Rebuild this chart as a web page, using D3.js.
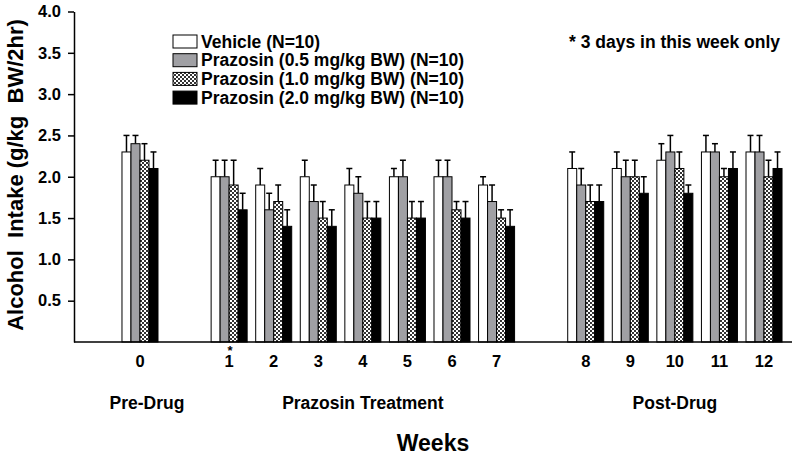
<!DOCTYPE html>
<html><head><meta charset="utf-8">
<script src="https://cdn.jsdelivr.net/npm/d3@7"></script>
<style>
body{margin:0;background:#fff;}
text{font-family:"Liberation Sans",Arial,sans-serif;font-weight:bold;fill:#000;white-space:pre;}
</style></head>
<body><svg id="chart" width="800" height="460"></svg>
<script>
// ---- data ----
const weeks = ["0","1","2","3","4","5","6","7","8","9","10","11","12"];
const slots = ["0","gapA","1","2","3","4","5","6","7","gapB","8","9","10","11","12"];
const seriesNames = ["Vehicle (N=10)","Prazosin (0.5 mg/kg BW) (N=10)","Prazosin (1.0 mg/kg BW) (N=10)","Prazosin (2.0 mg/kg BW) (N=10)"];
const vehicle   = [2.3,2.0,1.9,2.0,1.9,2.0,2.0,1.9,2.1,2.1,2.2,2.3,2.3];
const vehicleUp = [2.5,2.2,2.1,2.2,2.1,2.1,2.2,2.0,2.3,2.3,2.4,2.5,2.5];
const p05   = [2.4,2.0,1.6,1.7,1.8,2.0,2.0,1.7,1.9,2.0,2.3,2.3,2.3];
const p05Up = [2.5,2.2,1.8,1.9,2.0,2.2,2.2,1.9,2.1,2.2,2.5,2.4,2.5];
const p10   = [2.2,1.9,1.7,1.5,1.5,1.5,1.6,1.5,1.7,2.0,2.1,2.0,2.0];
const p10Up = [2.4,2.2,1.9,1.7,1.7,1.7,1.7,1.6,1.9,2.2,2.3,2.1,2.2];
const p20   = [2.1,1.6,1.4,1.4,1.5,1.5,1.5,1.4,1.7,1.8,1.8,2.1,2.1];
const p20Up = [2.3,1.8,1.6,1.6,1.7,1.7,1.7,1.6,1.9,2.0,1.9,2.3,2.3];
const yTicks = [0.5,1.0,1.5,2.0,2.5,3.0,3.5,4.0];
const phases = [{label:"Pre-Drug", from:"0", to:"0"},{label:"Prazosin Treatment", from:"1", to:"7"},{label:"Post-Drug", from:"8", to:"12"}];
const noteText = "* 3 days in this week only";
const starWeek = "1";
const yTitle = "Alcohol  Intake (g/kg  BW/2hr)";
const xTitle = "Weeks";

const series = [
  {name:seriesNames[0], vals:vehicle, ups:vehicleUp, fill:"#ffffff"},
  {name:seriesNames[1], vals:p05, ups:p05Up, fill:"#a0a0a4"},
  {name:seriesNames[2], vals:p10, ups:p10Up, fill:"url(#checker)"},
  {name:seriesNames[3], vals:p20, ups:p20Up, fill:"#000000"}
];

const svg = d3.select("#chart");
const defs = svg.append("defs");
const pat = defs.append("pattern").attr("id","checker").attr("patternUnits","userSpaceOnUse").attr("width",4).attr("height",4);
pat.append("rect").attr("width",4).attr("height",4).attr("fill","#ffffff");
pat.append("rect").attr("width",2).attr("height",2).attr("fill","#333");
pat.append("rect").attr("x",2).attr("y",2).attr("width",2).attr("height",2).attr("fill","#333");

const y = d3.scaleLinear().domain([0,4]).range([342,11.5]);
const x0 = d3.scaleBand().domain(slots).range([117.7,786.3]).paddingInner(0.192).paddingOuter(0.096);
const x1 = d3.scaleBand().domain(d3.range(series.length)).range([0,x0.bandwidth()]);

// bars
series.forEach((s,si)=>{
  const g = svg.append("g");
  weeks.forEach((w,i)=>{
    const bx = x0(w)+x1(si);
    const bw = x1.bandwidth();
    const cx = bx+bw/2;
    g.append("line").attr("x1",cx).attr("x2",cx).attr("y1",y(s.vals[i])).attr("y2",y(s.ups[i])).attr("stroke","#000").attr("stroke-width",1.5);
    g.append("line").attr("x1",cx-3).attr("x2",cx+3).attr("y1",y(s.ups[i])).attr("y2",y(s.ups[i])).attr("stroke","#000").attr("stroke-width",1.5);
    g.append("rect").attr("x",bx).attr("y",y(s.vals[i])).attr("width",bw).attr("height",y(0)-y(s.vals[i]))
      .attr("fill",s.fill).attr("stroke","#000").attr("stroke-width",1);
  });
});

// y axis
const yAxis = d3.axisLeft(y).tickValues(yTicks).tickFormat(d3.format(".1f")).tickSize(6).tickSizeOuter(0).tickPadding(7);
const ya = svg.append("g").attr("transform","translate(74,0)").call(yAxis);
ya.select(".domain").attr("stroke","#000").attr("stroke-width",1.5);
ya.selectAll(".tick line").attr("stroke","#000").attr("stroke-width",1.5);
ya.selectAll(".tick text").style("font-size","16.5px").style("font-family","Liberation Sans").style("font-weight","bold").attr("fill","#000");

// x axis line
svg.append("line").attr("x1",74).attr("x2",792).attr("y1",y(0)).attr("y2",y(0)).attr("stroke","#000").attr("stroke-width",1.5);
const xAxis = d3.axisBottom(x0).tickValues(weeks).tickSize(0).tickPadding(13);
const xa = svg.append("g").attr("transform",`translate(0,${y(0)})`).call(xAxis);
xa.select(".domain").remove();
xa.selectAll(".tick text").style("font-size","16.5px").style("font-family","Liberation Sans").style("font-weight","bold").attr("fill","#000");

// asterisk as part of the week-1 tick label
xa.selectAll(".tick").filter(d=>d===starWeek).select("text")
  .append("tspan").attr("x",1).attr("dy",-11.5).style("font-size","13px").text("*");

// phase labels
phases.forEach(p=>{
  const cx = (x0(p.from)+x0(p.to)+x0.bandwidth())/2;
  svg.append("text").attr("x",cx+(p.from==="0"?7:0)).attr("y",409).attr("text-anchor","middle").style("font-size","17.5px").text(p.label);
});

// titles
svg.append("text").attr("x",433).attr("y",451).attr("text-anchor","middle").style("font-size","23px").text(xTitle);
svg.append("text").attr("transform","translate(23,175) rotate(-90)").attr("text-anchor","middle").attr("xml:space","preserve").style("font-size","22px").text(yTitle);

// note
svg.append("text").attr("x",569).attr("y",48).style("font-size","17.5px").text(noteText);

// legend
series.forEach((s,i)=>{
  const ly = 35+i*18.7;
  svg.append("rect").attr("x",173).attr("y",ly).attr("width",24).attr("height",13).attr("fill",s.fill).attr("stroke","#000").attr("stroke-width",1);
  svg.append("text").attr("x",201).attr("y",ly+12.5).style("font-size","17.5px").text(s.name);
});
</script></body></html>
